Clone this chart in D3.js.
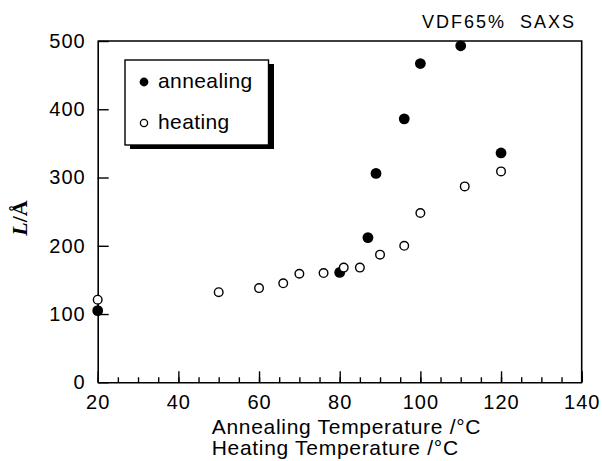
<!DOCTYPE html>
<html>
<head>
<meta charset="utf-8">
<script src="https://cdn.jsdelivr.net/npm/d3@7"></script>
<style>
  body { margin: 0; background: #fff; }
  text { font-family: "Liberation Sans", Arial, sans-serif; fill: #000; }
</style>
</head>
<body>
<svg id="chart"></svg>
<script>
// annealing series (filled circles)
const annealingT = [20, 80, 87, 89, 96, 100, 110, 120];
const annealingL = [105, 161, 212, 306, 386, 467, 493, 336];
// heating series (open circles)
const heatingT = [20, 50, 60, 66, 70, 76, 81, 85, 90, 96, 100, 111, 120];
const heatingL = [121, 132, 138, 145, 159, 160, 168, 168, 187, 200, 248, 287, 309];

const xTicks = [20, 40, 60, 80, 100, 120, 140];
const xMinor = d3.range(20, 141, 5);
const yTicks = [0, 100, 200, 300, 400, 500];
const seriesNames = ['annealing', 'heating'];

const W = 602, H = 461;
const margin = { top: 41, left: 97.7, right: 20.3, bottom: 78.7 };
const width = W - margin.left - margin.right;
const height = H - margin.top - margin.bottom;

const svg = d3.select('#chart').attr('width', W).attr('height', H);
const chart = svg.append('g')
    .attr('transform', `translate(${margin.left},${margin.top})`);

const x = d3.scaleLinear().domain([20, 140]).range([0, width]);
const y = d3.scaleLinear().domain([0, 500]).range([height, 0]);

// minor x ticks (inward, no labels)
const xMinorG = chart.append('g')
    .attr('transform', `translate(0,${height})`)
    .call(d3.axisBottom(x).tickValues(xMinor).tickSize(-5).tickSizeOuter(0).tickFormat(''));
xMinorG.select('.domain').remove();

// major x axis
const xAxisG = chart.append('g')
    .attr('transform', `translate(0,${height})`)
    .call(d3.axisBottom(x).tickValues(xTicks).tickSize(-11).tickSizeOuter(0).tickPadding(13));

// y axis
const yAxisG = chart.append('g')
    .call(d3.axisLeft(y).tickValues(yTicks).tickSize(-11).tickSizeOuter(0).tickPadding(12));

[xMinorG, xAxisG, yAxisG].forEach(g => {
    g.selectAll('line').attr('stroke', '#000').attr('stroke-width', 1.4);
    g.selectAll('.domain').attr('stroke', '#000').attr('stroke-width', 1.6);
});
[xAxisG, yAxisG].forEach(g => {
    g.selectAll('text')
        .style('font-size', '20px')
        .style('letter-spacing', '1px')
        .style('font-family', '"Liberation Sans", Arial, sans-serif')
        .attr('fill', '#000');
});

// top and right frame
chart.append('path')
    .attr('d', `M0,0H${width}V${height}`)
    .attr('fill', 'none')
    .attr('stroke', '#000')
    .attr('stroke-width', 1.6);

// points
chart.append('g').selectAll('circle')
    .data(annealingT.map((t, i) => [t, annealingL[i]]))
    .join('circle')
    .attr('cx', d => x(d[0]))
    .attr('cy', d => y(d[1]))
    .attr('r', 5.4)
    .attr('fill', '#000');

chart.append('g').selectAll('circle')
    .data(heatingT.map((t, i) => [t, heatingL[i]]))
    .join('circle')
    .attr('cx', d => x(d[0]))
    .attr('cy', d => y(d[1]))
    .attr('r', 4.3)
    .attr('fill', '#fff')
    .attr('stroke', '#000')
    .attr('stroke-width', 1.4);

// legend
const legend = svg.append('g').attr('transform', 'translate(125,60)');
legend.append('rect')
    .attr('x', 5).attr('y', 4).attr('width', 144).attr('height', 85)
    .attr('fill', '#000');
legend.append('rect')
    .attr('x', 0).attr('y', 0).attr('width', 143.5).attr('height', 85)
    .attr('fill', '#fff').attr('stroke', '#000').attr('stroke-width', 1.4);

seriesNames.forEach((name, i) => {
    const cy = 22 + i * 41;
    if (i === 0) {
        legend.append('circle').attr('cx', 19).attr('cy', cy).attr('r', 4.4).attr('fill', '#000');
    } else {
        legend.append('circle').attr('cx', 19).attr('cy', cy).attr('r', 3.6)
            .attr('fill', '#fff').attr('stroke', '#000').attr('stroke-width', 1.3);
    }
    legend.append('text')
        .attr('x', 33).attr('y', cy + 5.5)
        .style('font-size', '21px')
        .style('letter-spacing', '0.4px')
        .text(name);
});

// title
svg.append('text')
    .attr('x', 576).attr('y', 28)
    .attr('text-anchor', 'end')
    .style('font-size', '18px')
    .style('letter-spacing', '2px')
    .style('white-space', 'pre')
    .text('VDF65%  SAXS');

// x axis title
const xTitle = svg.append('text')
    .style('font-size', '21px')
    .style('letter-spacing', '0.7px');
xTitle.append('tspan').attr('x', 211.7).attr('y', 434).text('Annealing Temperature /°C');
xTitle.append('tspan').attr('x', 211.7).attr('y', 455).text('Heating Temperature /°C');

// y axis title
const yTitle = svg.append('text')
    .attr('transform', 'translate(27,218) rotate(-90)')
    .attr('text-anchor', 'middle')
    .style('font-family', '"Liberation Serif", "Times New Roman", serif')
    .style('font-weight', 'bold')
    .style('font-size', '22px');
yTitle.append('tspan').style('font-style', 'italic').text('L');
yTitle.append('tspan').text('/Å');
</script>
</body>
</html>
